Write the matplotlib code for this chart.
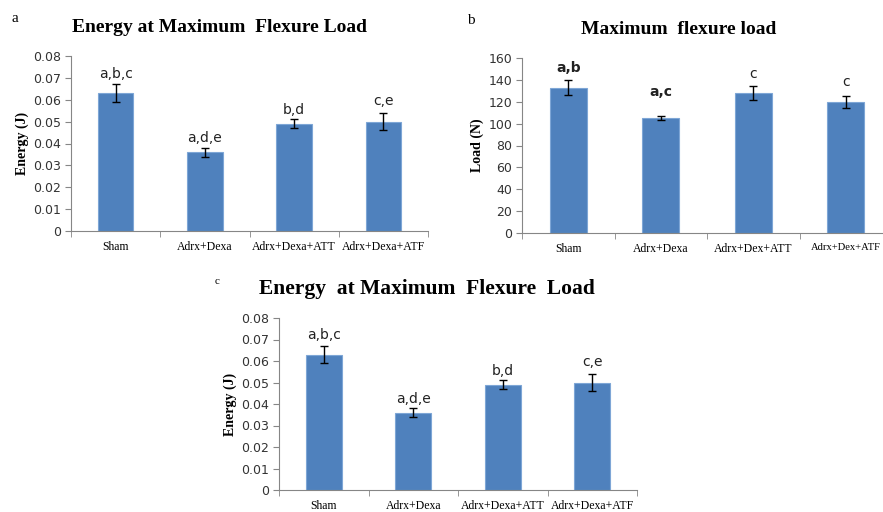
import numpy as np
import matplotlib.pyplot as plt

groups_a = ["Sham", "Adrx+Dexa", "Adrx+Dexa+ATT", "Adrx+Dexa+ATF"]
energy = [0.063, 0.036, 0.049, 0.050]
energy_err = [0.004, 0.002, 0.002, 0.004]
energy_letters = ["a,b,c", "a,d,e", "b,d", "c,e"]
energy_letter_y = [0.072, 0.0425, 0.0555, 0.0595]

groups_b = ["Sham", "Adrx+Dexa", "Adrx+Dex+ATT", "Adrx+Dex+ATF"]
load = [133, 105, 128, 119.5]
load_err = [6.5, 2, 6.5, 5.5]
load_letters = ["a,b", "a,c", "c", "c"]
load_letter_y = [151, 129, 145, 138]
load_letter_bold = [True, True, False, False]

W, H = 883, 512
BAR = "#4F81BD"
AXC = "#868686"


def px_axes(fig, left, right, top, bottom):
    return fig.add_axes([left / W, (H - bottom) / H, (right - left) / W, (bottom - top) / H])


def draw_panel(ax, groups, vals, errs, letters, ly, ymax, step, fmt, ylabel, bold=None, labsize=10):
    x = np.arange(len(groups))
    ax.bar(x, vals, width=0.4, color=BAR, edgecolor="#7EA6D6", linewidth=0.8, zorder=2)
    ax.errorbar(x, vals, yerr=errs, fmt="none", ecolor="black", elinewidth=1, capsize=3, capthick=1, zorder=3)
    for i, t in enumerate(letters):
        w = "bold" if (bold is not None and bold[i]) else "normal"
        ax.text(x[i], ly[i], t, ha="center", va="center", fontsize=labsize,
                fontfamily="DejaVu Sans", fontweight=w, color="#222222")
    ax.set_xlim(-0.5, len(groups) - 0.5)
    ax.set_ylim(0, ymax)
    ticks = np.arange(0, ymax + step / 2, step)
    ax.set_yticks(ticks)
    ax.set_yticklabels([fmt(t) for t in ticks], fontsize=9, color="#333333", fontfamily="DejaVu Sans")
    ax.set_xticks(x)
    ax.set_xticklabels(groups, fontsize=8.5, fontfamily="Liberation Serif")
    ax.tick_params(axis="x", length=0, pad=7)
    ax.set_xticks(np.arange(-0.5, len(groups)), minor=True)
    ax.tick_params(axis="x", which="minor", length=4, color=AXC)
    ax.tick_params(axis="y", length=4, color=AXC, pad=3)
    for s in ["top", "right"]:
        ax.spines[s].set_visible(False)
    for s in ["left", "bottom"]:
        ax.spines[s].set_color(AXC)
    ax.set_ylabel(ylabel, fontsize=10, fontfamily="Liberation Serif", fontweight="bold", labelpad=3)


def efmt(t):
    return "0" if t == 0 else f"{t:.2f}"


def lfmt(t):
    return f"{int(round(t))}"


fig = plt.figure(figsize=(W / 100, H / 100), dpi=100)

ax_a = px_axes(fig, 71, 428, 56, 231)
draw_panel(ax_a, groups_a, energy, energy_err, energy_letters, energy_letter_y, 0.08, 0.01, efmt, "Energy (J)")
fig.text(219 / W, 1 - 28 / H, "Energy at Maximum  Flexure Load", ha="center", va="center",
         fontsize=14, fontweight="bold", fontfamily="Liberation Serif")
fig.text(12 / W, 1 - 19 / H, "a", ha="left", va="center", fontsize=11, fontfamily="Liberation Serif")

ax_b = px_axes(fig, 522, 892, 58, 233)
draw_panel(ax_b, groups_b, load, load_err, load_letters, load_letter_y, 160, 20, lfmt, "Load (N)", bold=load_letter_bold)
# last label sits at the right edge; keep it inside the picture
last = ax_b.get_xticklabels()[-1]
last.set_fontsize(7.6)
fig.text(679 / W, 1 - 30 / H, "Maximum  flexure load", ha="center", va="center",
         fontsize=14, fontweight="bold", fontfamily="Liberation Serif")
fig.text(467 / W, 1 - 20 / H, "b", ha="left", va="center", fontsize=11, fontfamily="Liberation Serif")

ax_c = px_axes(fig, 279, 637, 318, 490)
draw_panel(ax_c, groups_a, energy, energy_err, energy_letters, energy_letter_y, 0.08, 0.01, efmt, "Energy (J)")
fig.text(427 / W, 1 - 289 / H, "Energy  at Maximum  Flexure  Load", ha="center", va="center",
         fontsize=15.5, fontweight="bold", fontfamily="Liberation Serif")
fig.text(215 / W, 1 - 282 / H, "c", ha="left", va="center", fontsize=8, fontfamily="Liberation Serif")

fig.savefig("out.png", dpi=100)
